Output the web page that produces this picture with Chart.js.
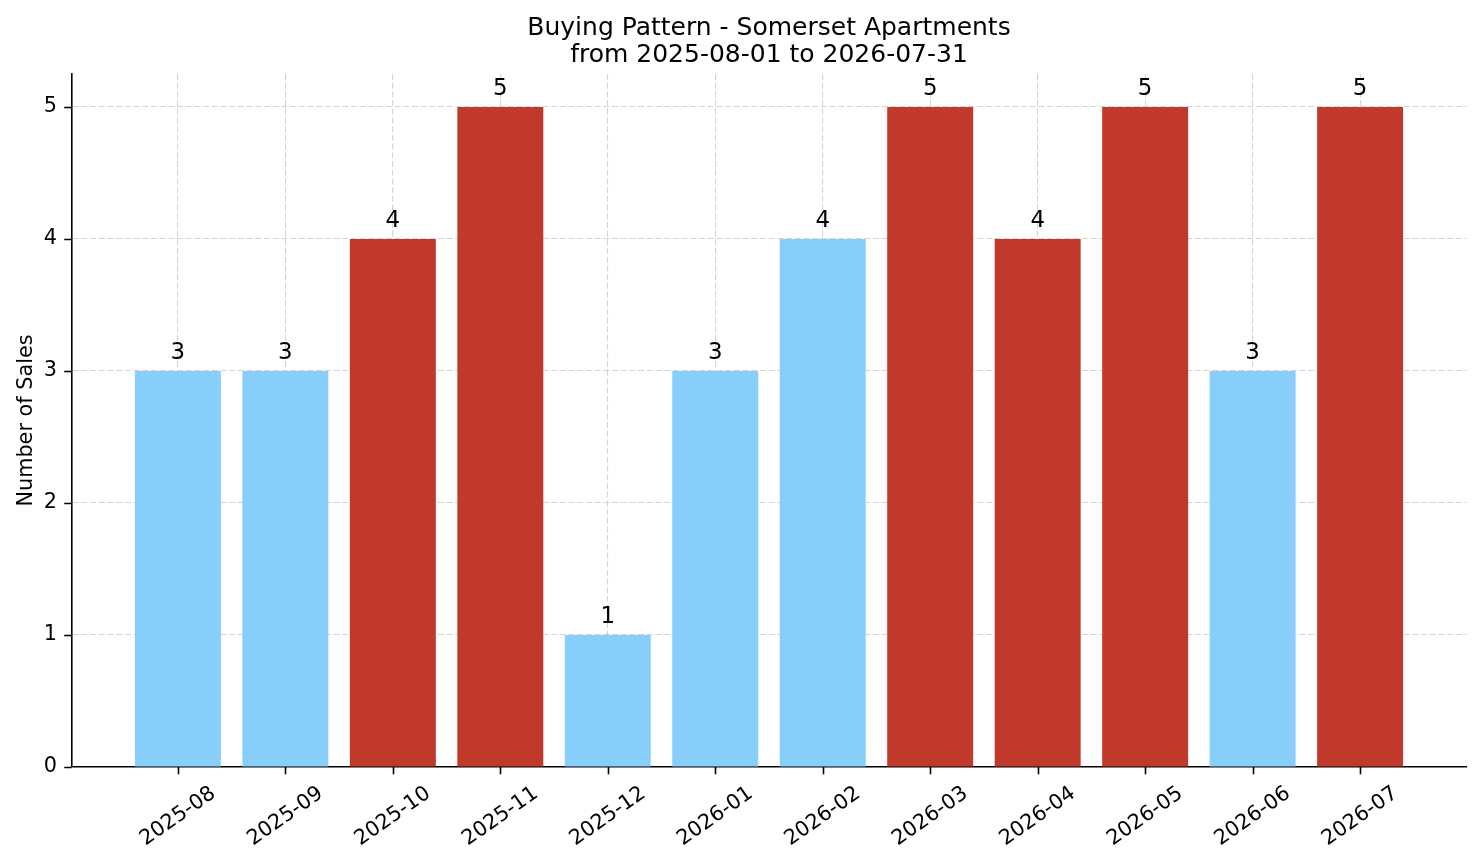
<!DOCTYPE html>
<html>
<head>
<meta charset="utf-8">
<title>Buying Pattern - Somerset Apartments</title>
<script src="https://cdn.jsdelivr.net/npm/chart.js@4.4.1/dist/chart.umd.min.js"></script>
<style>
  html, body { margin: 0; padding: 0; background: #fff; }
  #wrap { width: 1481px; height: 863px; position: relative; }
</style>
</head>
<body>
<div id="wrap"><canvas id="salesChart"></canvas></div>
<script>
// 데이터
var months = ['2025-08', '2025-09', '2025-10', '2025-11', '2025-12', '2026-01',
              '2026-02', '2026-03', '2026-04', '2026-05', '2026-06', '2026-07'];
var sales = [3, 3, 4, 5, 1, 3, 4, 5, 4, 5, 3, 5];
var highlighted = [false, false, true, true, false, false, false, true, true, true, false, true];
var yTicks = [0, 1, 2, 3, 4, 5];
var titleLines = ['Buying Pattern - Somerset Apartments', 'from 2025-08-01 to 2026-07-31'];
var yLabel = 'Number of Sales';

var FONT = '"DejaVu Sans", "Liberation Sans", sans-serif';
var BLUE = '#87CEFA';
var RED = '#C0392B';
var TICK_LEN = 7.3;

// ===================================================================
// 제목, 축 라벨, 눈금, 값 라벨 그리기
var extrasPlugin = {
    id: 'extras',
    afterDraw: function(chart) {
        var ctx = chart.ctx;
        var area = chart.chartArea;
        var xs = chart.scales.x;
        var ys = chart.scales.y;
        var cx = (area.left + area.right) / 2;

        ctx.save();
        ctx.fillStyle = '#000';

        // 제목
        ctx.font = '25px ' + FONT;
        ctx.textAlign = 'center';
        ctx.textBaseline = 'alphabetic';
        ctx.fillText(titleLines[0], cx, 34.5);
        ctx.fillText(titleLines[1], cx, 61.5);

        // y축 제목
        ctx.save();
        ctx.translate(31.5, (area.top + area.bottom) / 2);
        ctx.rotate(-Math.PI / 2);
        ctx.font = '20.8px ' + FONT;
        ctx.textAlign = 'center';
        ctx.fillText(yLabel, 0, 0);
        ctx.restore();

        // 눈금 표시
        ctx.strokeStyle = '#000';
        ctx.lineWidth = 1.6;
        ctx.beginPath();
        yTicks.forEach(function(t) {
            var py = Math.round(ys.getPixelForValue(t)) + 0.5;
            ctx.moveTo(area.left - TICK_LEN, py);
            ctx.lineTo(area.left, py);
        });
        months.forEach(function(m, i) {
            var px = Math.round(xs.getPixelForValue(i)) + 0.5;
            ctx.moveTo(px, area.bottom);
            ctx.lineTo(px, area.bottom + TICK_LEN);
        });
        ctx.stroke();

        // x축 라벨 (35도 회전, 가운데 정렬)
        var ang = 35 * Math.PI / 180;
        ctx.font = '20.8px ' + FONT;
        ctx.textAlign = 'center';
        ctx.textBaseline = 'middle';
        months.forEach(function(m, i) {
            var w = ctx.measureText(m).width;
            var h = 20.8 * 1.17;
            var bh = w * Math.sin(ang) + h * Math.cos(ang);
            var px = xs.getPixelForValue(i);
            var py = area.bottom + TICK_LEN + 7.3 + bh / 2;
            ctx.save();
            ctx.translate(px, py);
            ctx.rotate(-ang);
            ctx.fillText(m, 0, 0);
            ctx.restore();
        });

        // 막대 위 값
        ctx.font = '22.9px ' + FONT;
        ctx.textAlign = 'center';
        ctx.textBaseline = 'alphabetic';
        sales.forEach(function(v, i) {
            var px = xs.getPixelForValue(i);
            var py = ys.getPixelForValue(v) - 12;
            ctx.fillText(String(v), px, py);
        });

        ctx.restore();
    }
};

var GRID_COLOR = 'rgba(176,176,176,0.55)';

var ctx = document.getElementById('salesChart').getContext('2d');
var salesChart = new Chart(ctx, {
    type: 'bar',
    data: {
        datasets: [{
            label: 'Number of Sales',
            data: sales.map(function(v, i) { return { x: i, y: v }; }),
            backgroundColor: highlighted.map(function(h) { return h ? RED : BLUE; }),
            borderWidth: 0,
            barPercentage: 0.8,
            categoryPercentage: 1.0
        }]
    },
    options: {
        responsive: true,
        maintainAspectRatio: false,
        animation: false,
        devicePixelRatio: 1,
        layout: { padding: { left: 0, right: 14.5, top: 74, bottom: 0 } },
        plugins: {
            legend: { display: false },
            tooltip: { enabled: false },
            title: { display: false }
        },
        scales: {
            x: {
                type: 'linear',
                min: -0.99,
                max: 11.99,
                offset: false,
                z: 1,
                afterBuildTicks: function(scale) {
                    scale.ticks = months.map(function(m, i) { return { value: i }; });
                },
                afterFit: function(scale) { scale.height = 96; },
                ticks: { display: false },
                grid: { offset: false, color: GRID_COLOR, lineWidth: 1.1, drawTicks: false },
                border: { display: true, color: '#000', width: 1.6, dash: [6, 2.7] }
            },
            y: {
                min: 0,
                max: 5.25,
                z: 1,
                afterBuildTicks: function(scale) {
                    scale.ticks = yTicks.map(function(t) { return { value: t }; });
                },
                afterFit: function(scale) { scale.width = 71.5; },
                ticks: {
                    padding: 14.6,
                    color: '#000',
                    font: { family: FONT, size: 20.8 }
                },
                grid: { color: GRID_COLOR, lineWidth: 1.1, drawTicks: false },
                border: { display: true, color: '#000', width: 1.6, dash: [6, 2.7] }
            }
        }
    },
    plugins: [extrasPlugin]
});
</script>
</body>
</html>
